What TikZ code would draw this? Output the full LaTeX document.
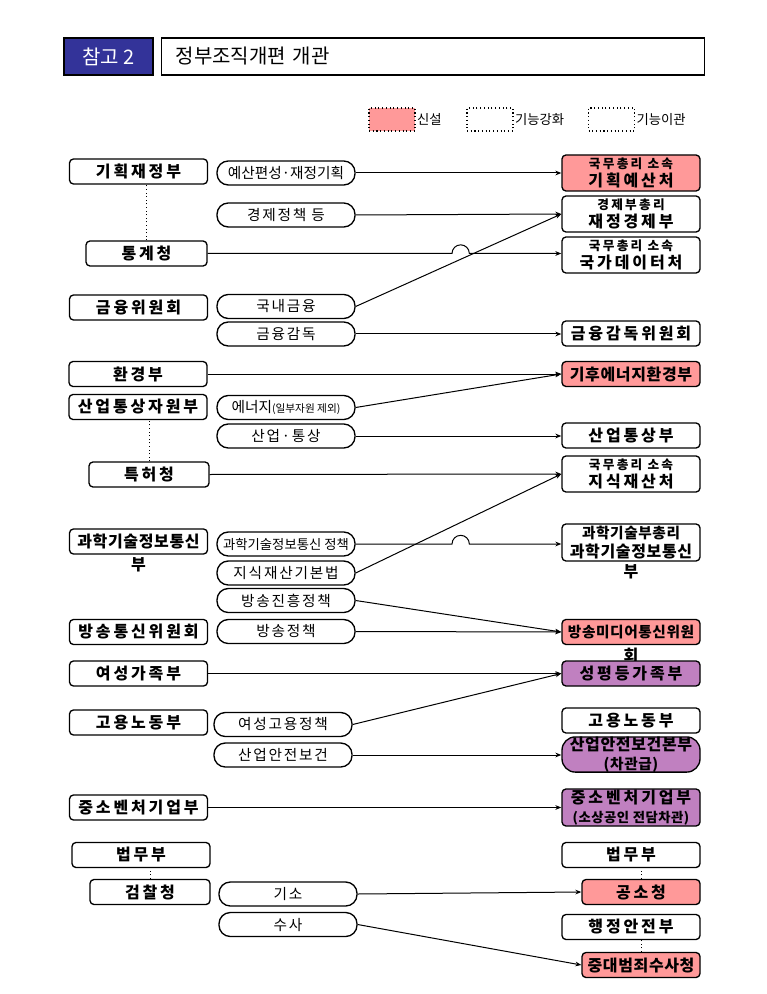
\documentclass[tikz,border=0pt]{standalone}
\usepackage{fontspec}
\setmainfont{Noto Sans CJK KR}
\newfontfamily\orgfam[LetterSpace=18]{Noto Sans CJK KR}
\newfontfamily\tightfam[LetterSpace=4]{Noto Sans CJK KR}
\newfontfamily\fnfam[LetterSpace=12]{Noto Sans CJK KR}
\usepackage{tikz}
\usetikzlibrary{positioning,arrows.meta}
\definecolor{hdr}{HTML}{333399}
\definecolor{newc}{HTML}{FF9999}
\definecolor{moved}{HTML}{C080C0}
\newcommand\orgfont{\orgfam\bfseries\fontsize{12}{14}\selectfont}
\newcommand\orgtight{\tightfam\bfseries\fontsize{12}{14}\selectfont}
\newcommand\fnfont{\fnfam\fontsize{11}{12}\selectfont}
\newcommand\fntight{\fontsize{11}{12}\selectfont}
\newcommand\uprow[1]{{\fontsize{9.5}{11}\selectfont #1}}
\tikzset{
  org/.style={draw, line width=1pt, rounded corners=3pt, minimum width=103.5pt,
    minimum height=18.75pt, inner sep=0pt, font=\orgfont},
  two/.style={org, minimum height=27pt, align=center},
  fn/.style={draw, line width=1pt, rounded corners=8.5pt, minimum width=103.5pt,
    minimum height=18pt, inner sep=0pt, font=\fnfont},
  newb/.style={fill=newc},
  movb/.style={fill=moved},
  arr/.style={line width=0.75pt, -{Stealth[length=4.5pt,width=3.5pt]}},
  link/.style={dotted, line width=0.7pt},
  lab/.style={font=\orgfont, inner sep=2pt},
  legbox/.style={draw, dotted, line width=0.8pt, minimum width=34.5pt,
    minimum height=17.25pt, inner sep=0pt},
  legtxt/.style={font=\fontsize{10}{12}\selectfont, inner sep=1pt},
}

\begin{document}
\begin{tikzpicture}[x=0.75pt, y=-0.75pt]
  \useasboundingbox (0,0) rectangle (766,994);

  % title bar
  \node[fill=hdr, draw=black, line width=0.8pt, minimum width=66.75pt, minimum height=27.75pt,
    text=white, font=\fontsize{15}{17}\selectfont] (tag) at (108.5,56.5) {참고 2};
  \node[draw, line width=1pt, anchor=west, minimum height=27.75pt, inner xsep=10.5pt,
    text width=386.25pt, align=left, font=\fontsize{15}{17}\selectfont] (title) at (161,56.5) {정부조직개편 개관};

  % legend
  \node[legbox, fill=newc] (lnew) at (392,119.5) {};
  \node[legtxt, right=0pt of lnew] (tnew) {신설};
  \node[legbox] (lstr) at (490,119.5) {};
  \node[legtxt, right=0pt of lstr] (tstr) {기능강화};
  \node[legbox] (lmov) at (611.5,119.5) {};
  \node[legtxt, right=0pt of lmov] (tmov) {기능이관};

  % before
  \node[org] (mosf) at (138.5,171.5) {기획재정부};
  \node[org, minimum width=90.75pt] (kostat) at (146.5,253.5) {통계청};
  \node[org] (fsc) at (138.5,307.5) {금융위원회};
  \node[org] (me) at (138,374) {환경부};
  \node[org] (motie) at (138,407) {산업통상자원부};
  \node[org, minimum width=90pt] (kipo) at (149,474.5) {특허청};
  \node[org, font=\orgtight, label={[lab]below:부}] (msit) at (138.5,541.5) {과학기술정보통신};
  \node[org] (kcc) at (138.5,632) {방송통신위원회};
  \node[org] (mogef) at (138.5,673.5) {여성가족부};
  \node[org] (moel) at (138.5,722.5) {고용노동부};
  \node[org] (mss) at (138.5,807.5) {중소벤처기업부};
  \node[org] (moj) at (141,855) {법무부};
  \node[org, minimum width=90pt] (spo) at (150,892) {검찰청};

  \draw[link] (kostat.north) -- (kostat.north |- mosf.south);
  \draw[link] (kipo.north) -- (kipo.north |- motie.south);
  \draw[link] (spo.north) -- (spo.north |- moj.south);

  % functions
  \node[fn, font=\fntight] (f1) at (286,173) {예산편성·재정기획};
  \node[fn] (f2) at (286,215) {경제정책 등};
  \node[fn] (f3) at (286,306.5) {국내금융};
  \node[fn] (f4) at (286,334) {금융감독};
  \node[fn, font=\fntight] (f5) at (286,407.5) {에너지{\fontsize{8}{9}\selectfont(일부자원 제외)}};
  \node[fn] (f6) at (286,436) {산업·통상};
  \node[fn, font=\fontsize{10}{11}\selectfont] (f7) at (286,544) {과학기술정보통신 정책};
  \node[fn] (f8) at (286,573) {지식재산기본법};
  \node[fn] (f9) at (286,600.5) {방송진흥정책};
  \node[fn] (f10) at (286,631.5) {방송정책};
  \node[fn] (f11) at (283,724.5) {여성고용정책};
  \node[fn] (f12) at (283,755) {산업안전보건};
  \node[fn] (f13) at (288,894) {기소};
  \node[fn] (f14) at (288,924.5) {수사};

  % after
  \node[two, newb] (mopb) at (631,173) {\uprow{국무총리 소속}\\기획예산처};
  \node[two] (mofe) at (631,214) {\uprow{경제부총리}\\재정경제부};
  \node[two] (nds) at (631,255) {\uprow{국무총리 소속}\\국가데이터처};
  \node[org] (fss) at (631,333.5) {금융감독위원회};
  \node[org, newb, font=\orgtight] (mcee) at (631,374) {기후에너지환경부};
  \node[org] (mot) at (631,435.5) {산업통상부};
  \node[two] (kipa) at (631,474) {\uprow{국무총리 소속}\\지식재산처};
  \node[two, font=\orgtight, minimum height=27.75pt, label={[lab]below:부}] (most) at (631,542.5)
    {\fontsize{11}{12}\selectfont 과학기술부총리\\과학기술정보통신};
  \node[org, newb, font=\tightfam\bfseries\fontsize{11}{13}\selectfont,
    label={[lab]below:회}] (kmcc) at (631,632) {방송미디어통신위원};
  \node[org, movb] (moge) at (631,673.5) {성평등가족부};
  \node[org] (moel2) at (631,720.5) {고용노동부};
  \node[two, movb, font=\orgtight, rounded corners=10pt, minimum height=26.25pt] (kosha) at (631,754.5)
    {산업안전보건본부\\{\fontsize{11}{12}\selectfont(차관급)}};
  \node[two, movb, minimum height=27.75pt] (mss2) at (631,807.5)
    {중소벤처기업부\\{\tightfam\fontsize{10}{11}\selectfont(소상공인 전담차관)}};
  \node[org] (moj2) at (631,855) {법무부};
  \node[org, newb, minimum width=88.5pt] (pros) at (641,892) {공소청};
  \node[org] (mois) at (631,927) {행정안전부};
  \node[org, newb, font=\orgtight, minimum width=88.5pt] (sci) at (641,965) {중대범죄수사청};

  \draw[link] (pros.north) -- (pros.north |- moj2.south);
  \draw[link] (sci.north) -- (sci.north |- mois.south);

  % moves
  \coordinate (hop) at (452,0);
  \draw[arr] (f1.east) -- (f1.east -| mopb.west);
  \draw[arr] (f2.east) -- (mofe.west);
  \draw[arr] (kostat.east) -- (kostat.east -| hop) arc[start angle=180, end angle=0, radius=6.5pt]
    -- (kostat.east -| nds.west);
  \draw[arr] (f3.east) -- (mofe.west);
  \draw[arr] (f4.east) -- (f4.east -| fss.west);
  \draw[arr] (me.east) -- (mcee.west);
  \draw[arr] (f5.east) -- (mcee.west);
  \draw[arr] (f6.east) -- (f6.east -| mot.west);
  \draw[arr] (kipo.east) -- (kipa.west);
  \draw[arr] (f8.east) -- (kipa.west);
  \draw[arr] (f7.east) -- (f7.east -| hop) arc[start angle=180, end angle=0, radius=6.5pt]
    -- (f7.east -| most.west);
  \draw[arr] (f9.east) -- (kmcc.west);
  \draw[arr] (f10.east) -- (kmcc.west);
  \draw[arr] (mogef.east) -- (moge.west);
  \draw[arr] (f11.east) -- (moge.west);
  \draw[arr] (f12.east) -- (f12.east -| kosha.west);
  \draw[arr] (mss.east) -- (mss2.west);
  \draw[arr] (f13.east) -- (pros.west);
  \draw[arr] (f14.east) -- (sci.west);
\end{tikzpicture}
\end{document}
